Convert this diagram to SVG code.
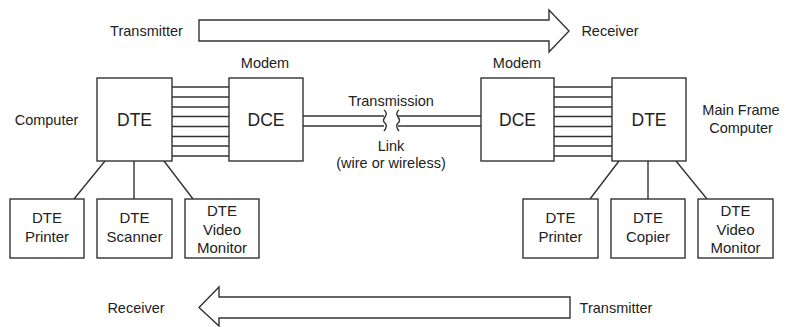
<svg xmlns="http://www.w3.org/2000/svg" width="792" height="327" viewBox="0 0 792 327">
<style>
.b{fill:#fff;stroke:#333;stroke-width:1.4}
.l{fill:none;stroke:#333;stroke-width:1.4}
text{font-family:"Liberation Sans",Arial,sans-serif;fill:#222;text-anchor:middle}
.t{font-size:14.5px}
.s{font-size:15px}
.big{font-size:17.5px}
</style>
<rect width="792" height="327" fill="#fff"/>
<g id="arrow-top">
<path class="b" d="M199,20 H549 V10 L569,31 L549,52 V41 H199 Z"/>
<text class="t" x="146.5" y="36">Transmitter</text>
<text class="t" x="610" y="36">Receiver</text>
</g>
<g id="arrow-bottom">
<path class="b" d="M570,297 H219 V287 L199,307.5 L219,326 V318 H570 Z"/>
<text class="t" x="136" y="313">Receiver</text>
<text class="t" x="616" y="313">Transmitter</text>
</g>
<g id="connectors">
<path class="l" d="M172,87H229M172,97H229M172,107H229M172,116.5H229M172,126.5H229M172,136.5H229M172,146H229M172,156H229"/>
<path class="l" d="M554,87H612M554,97H612M554,107H612M554,116.5H612M554,126.5H612M554,136.5H612M554,146H612M554,156H612"/>
<path class="l" d="M303,116H384M303,126H384M398,116H481M398,126H481"/>
<path class="l" d="M384,110 q4,3 1,7 q-3,4 0,6 q3,3 -1,8"/>
<path class="l" d="M399,110 q-4,3 -1,7 q3,4 0,6 q-3,3 1,8"/>
<path class="l" d="M105,161L74,199M134,161V199M164,161L193,199"/>
<path class="l" d="M619,161L590,199M648,161V199M676,161L707,199"/>
</g>
<text class="t" x="391" y="106">Transmission</text>
<text class="t" x="391" y="151">Link</text>
<text class="t" x="391" y="168">(wire or wireless)</text>
<g id="dte-left">
<rect class="b" x="97" y="78" width="75" height="83"/>
<text class="big" x="134.5" y="126">DTE</text>
<text class="t" x="46.5" y="125">Computer</text>
</g>
<g id="dce-left">
<rect class="b" x="229" y="78" width="74" height="83"/>
<text class="big" x="266" y="126">DCE</text>
<text class="t" x="265" y="68">Modem</text>
</g>
<g id="dce-right">
<rect class="b" x="481" y="78" width="73" height="83"/>
<text class="big" x="517.5" y="126">DCE</text>
<text class="t" x="517" y="68">Modem</text>
</g>
<g id="dte-right">
<rect class="b" x="612" y="78" width="74" height="83"/>
<text class="big" x="649" y="126">DTE</text>
<text class="t" x="741" y="115">Main Frame</text>
<text class="t" x="741" y="133">Computer</text>
</g>
<g id="printer-left">
<rect class="b" x="10" y="199" width="74" height="59"/>
<text class="s" x="47" y="223">DTE</text>
<text class="s" x="47" y="242">Printer</text>
</g>
<g id="scanner">
<rect class="b" x="97" y="199" width="75" height="59"/>
<text class="s" x="134.5" y="223">DTE</text>
<text class="s" x="134.5" y="242">Scanner</text>
</g>
<g id="monitor-left">
<rect class="b" x="185" y="199" width="74" height="59"/>
<text class="s" x="222" y="216">DTE</text>
<text class="s" x="222" y="235">Video</text>
<text class="s" x="222" y="253">Monitor</text>
</g>
<g id="printer-right">
<rect class="b" x="523" y="199" width="75" height="59"/>
<text class="s" x="560.5" y="223">DTE</text>
<text class="s" x="560.5" y="242">Printer</text>
</g>
<g id="copier">
<rect class="b" x="611" y="199" width="74" height="59"/>
<text class="s" x="648" y="223">DTE</text>
<text class="s" x="648" y="242">Copier</text>
</g>
<g id="monitor-right">
<rect class="b" x="698" y="199" width="75" height="59"/>
<text class="s" x="735.5" y="216">DTE</text>
<text class="s" x="735.5" y="235">Video</text>
<text class="s" x="735.5" y="253">Monitor</text>
</g>
</svg>
